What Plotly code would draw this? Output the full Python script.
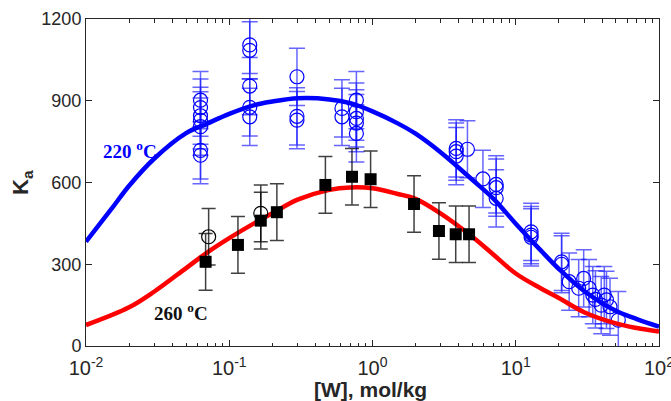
import plotly.graph_objects as go

# ---------------- data ----------------
# model curves
curve_w = [0.01, 0.015, 0.02, 0.03, 0.05, 0.07, 0.1, 0.15, 0.2, 0.3, 0.5, 0.7,
           1, 1.5, 2, 3, 5, 7, 10, 15, 20, 30, 50, 70, 100]
curve_220 = [383, 502, 588, 688, 781, 816, 852, 884, 897, 909, 905, 891,
             861, 817, 779, 710, 609, 540, 449, 350, 283, 202, 129, 99, 71]
curve_260_w = [0.01, 0.02, 0.03, 0.05, 0.07, 0.1, 0.15, 0.2, 0.3, 0.5, 0.7,
               1, 1.5, 2, 3, 5, 7, 10, 15, 20, 30, 50, 70, 100]
curve_260 = [77, 142, 200, 286, 343, 396, 451, 487, 537, 573, 582,
             579, 558, 540, 486, 400, 335, 266, 211, 176, 124, 83, 66, 53]

# 220 C experimental points (open blue circles)
w_220 = [0.063, 0.063, 0.063, 0.063, 0.063, 0.063, 0.063,
         0.139, 0.139, 0.139, 0.139, 0.139,
         0.297, 0.297, 0.297,
         0.612, 0.612,
         0.772, 0.772, 0.772, 0.772, 0.772,
         3.84, 3.84, 3.84, 4.6,
         5.9, 7.3, 7.3, 7.3,
         12.8, 12.8, 12.8,
         20.9, 20.9, 23.6, 27.5, 29.8, 32.5, 34.5, 36, 39.5, 41.5, 43, 45.5, 52]
k_220 = [902, 875, 845, 828, 805, 718, 700,
         1105, 1085, 954, 876, 841,
         988, 843, 829,
         872, 841,
         902, 860, 835, 818, 780,
         725, 713, 697, 722,
         613, 593, 581, 542,
         419, 407, 399,
         309, 300, 236, 212, 248, 212, 187, 171, 150, 187, 169, 144, 95]
err_220 = 105

# 260 C experimental points (filled black squares)
w_260 = [0.0684, 0.115, 0.166, 0.215, 0.469, 0.719, 0.97, 1.95, 2.91, 3.81, 4.72]
k_260 = [309, 371, 460, 491, 591, 621, 612, 521, 422, 410, 410]
# extra open black circles
w_260o = [0.0718, 0.166]
k_260o = [401, 487]
err_260 = 104

x_tickvals = [0.01, 0.1, 1, 10, 100]
x_ticktext = ["10<sup>-2</sup>", "10<sup>-1</sup>", "10<sup>0</sup>",
              "10<sup>1</sup>", "10<sup>2</sup>"]
y_tickvals = [0, 300, 600, 900, 1200]

# ---------------- figure ----------------
fig = go.Figure()

fig.add_trace(go.Scatter(
    x=w_220, y=k_220, mode="markers",
    marker=dict(symbol="circle-open", size=14, color="#0000ff", line=dict(width=1.2)),
    error_y=dict(type="constant", value=err_220, color="rgba(20,20,255,0.65)",
                 thickness=1.5, width=8),
    showlegend=False))

fig.add_trace(go.Scatter(
    x=curve_w, y=curve_220, mode="lines", line=dict(color="#0000ff", width=4.5, shape="spline"),
    showlegend=False))

fig.add_trace(go.Scatter(
    x=curve_260_w, y=curve_260, mode="lines", line=dict(color="#ff0000", width=4.5, shape="spline"),
    showlegend=False))

fig.add_trace(go.Scatter(
    x=w_260o, y=k_260o, mode="markers",
    marker=dict(symbol="circle-open", size=14, color="black", line=dict(width=1.2)),
    error_y=dict(type="constant", value=err_260, color="rgba(0,0,0,0.75)",
                 thickness=1.5, width=7),
    showlegend=False))

fig.add_trace(go.Scatter(
    x=w_260, y=k_260, mode="markers",
    marker=dict(symbol="square", size=12, color="black"),
    error_y=dict(type="constant", value=err_260, color="rgba(0,0,0,0.75)",
                 thickness=1.5, width=7),
    showlegend=False))

minor_vals = [m * 10 ** e for e in range(-2, 2) for m in range(2, 10)]

sans = "Liberation Sans, Arial, sans-serif"
serif = "Liberation Serif, Times New Roman, serif"

pl, pr, pt, pb = 86, 12, 19, 55
pw, ph = 671 - pl - pr, 401 - pt - pb


def px(x, y):
    return (x - pl) / pw, 1 - (y - pt) / ph


fig.update_layout(
    width=671, height=401,
    margin=dict(l=pl, r=pr, t=pt, b=pb, autoexpand=False),
    paper_bgcolor="white", plot_bgcolor="white",
    xaxis=dict(type="log", range=[-2, 2], tickvals=x_tickvals, ticktext=x_ticktext,
               ticks="inside", ticklen=6, tickcolor="#262626", showline=True,
               linecolor="#262626", linewidth=1, mirror="ticks", showgrid=False,
               zeroline=False, automargin=False, ticklabelstandoff=4,
               ticklabeloverflow="allow",
               tickfont=dict(family=sans, size=20, color="#262626"),
               minor=dict(tickvals=minor_vals, ticks="inside", ticklen=3.5,
                          tickcolor="#262626", showgrid=False)),
    yaxis=dict(range=[0, 1200], tickvals=y_tickvals, ticks="inside", ticklen=6,
               tickcolor="#262626", showline=True, linecolor="#262626", linewidth=1,
               mirror="ticks", showgrid=False, zeroline=False, automargin=False,
               tickfont=dict(family=sans, size=18, color="#262626")),
)

ax_x, ax_y = px(370, 389)
k_x, k_y = px(22, 183)
t1x, t1y = px(130, 150)
t2x, t2y = px(181, 312)
common = dict(xref="paper", yref="paper", showarrow=False, xanchor="center", yanchor="middle")
fig.update_layout(annotations=[
    dict(x=ax_x, y=ax_y, text="<b>[W], mol/kg</b>",
         font=dict(family=sans, size=21, color="#262626"), **common),
    dict(x=k_x, y=k_y, text="<b>K<sub>a</sub></b>", textangle=-90,
         font=dict(family=sans, size=22, color="#262626"), **common),
    dict(x=t1x, y=t1y, text="<b>220 <sup>o</sup>C</b>",
         font=dict(family=serif, size=19, color="#0000ff"), **common),
    dict(x=t2x, y=t2y, text="<b>260 <sup>o</sup>C</b>",
         font=dict(family=serif, size=19, color="#111111"), **common),
])

fig.write_html("out.html", config={"displayModeBar": False},
               post_script="document.body.style.margin='0';document.body.style.padding='0';")
